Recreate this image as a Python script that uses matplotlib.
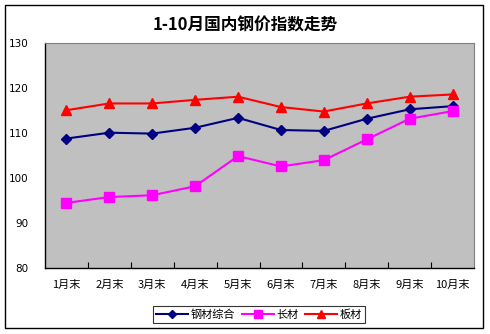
import matplotlib
matplotlib.use("Agg")
import matplotlib.pyplot as plt
from matplotlib.patches import Rectangle
from matplotlib.ticker import FixedLocator

plt.rcParams["font.family"] = ["Noto Sans CJK SC", "DejaVu Sans"]

months = ["1月末", "2月末", "3月末", "4月末", "5月末", "6月末", "7月末", "8月末", "9月末", "10月末"]
composite = [108.7, 110.0, 109.8, 111.1, 113.3, 110.6, 110.4, 113.1, 115.2, 115.9]
long_steel = [94.4, 95.7, 96.1, 98.1, 104.8, 102.5, 103.9, 108.5, 113.1, 114.8]
flat_steel = [115.0, 116.5, 116.5, 117.3, 118.0, 115.7, 114.7, 116.5, 118.0, 118.5]
y_ticks = [80, 90, 100, 110, 120, 130]

fig = plt.figure(figsize=(4.9, 3.34), dpi=100)
fig.patch.set_facecolor("white")
fig.patches.append(Rectangle((5 / 490, 1 - 328 / 334), 478 / 490, 323 / 334,
                             transform=fig.transFigure, fill=False,
                             edgecolor="black", linewidth=1.0))

ax = fig.add_axes([45 / 490, 1 - 267.7 / 334, 429 / 490, 225 / 334])
ax.set_facecolor("#c0c0c0")
x = list(range(len(months)))

ax.plot(x, composite, color="#000080", marker="D", markersize=5, linewidth=1.5,
        label="钢材综合")
ax.plot(x, long_steel, color="#ff00ff", marker="s", markersize=6.5, linewidth=1.5,
        label="长材")
ax.plot(x, flat_steel, color="#ff0000", marker="^", markersize=6.5, linewidth=1.5,
        label="板材")

ax.set_xlim(-0.5, len(months) - 0.5)
ax.set_ylim(80, 130)
ax.set_yticks(y_ticks)
ax.set_yticklabels([str(v) for v in y_ticks], fontsize=7.5, family="DejaVu Sans")
ax.tick_params(axis="y", length=0, pad=12)

ax.xaxis.set_major_locator(FixedLocator(x))
ax.set_xticklabels(months, fontsize=8)
ax.tick_params(axis="x", which="major", length=0, pad=9)
ax.xaxis.set_minor_locator(FixedLocator([i + 0.5 for i in range(len(months) - 1)]))
ax.tick_params(axis="x", which="minor", length=4, direction="in", width=0.8)

for side in ("top", "right"):
    ax.spines[side].set_color("#808080")
    ax.spines[side].set_linewidth(0.8)
for side in ("left", "bottom"):
    ax.spines[side].set_color("black")
    ax.spines[side].set_linewidth(1.0)

fig.text(0.5, 1 - 25 / 334, "1-10月国内钢价指数走势", ha="center", va="center",
         fontsize=12, fontweight="bold")

leg = ax.legend(loc="center", bbox_to_anchor=(259 / 490, 1 - 314.5 / 334),
                bbox_transform=fig.transFigure, ncol=3, fontsize=8,
                frameon=True, fancybox=False, edgecolor="black",
                handlelength=2.9, handletextpad=0.2, columnspacing=0.6,
                borderpad=0.25, borderaxespad=0, markerscale=0.85)
leg.get_frame().set_linewidth(0.8)

fig.savefig("out.png", dpi=100)
